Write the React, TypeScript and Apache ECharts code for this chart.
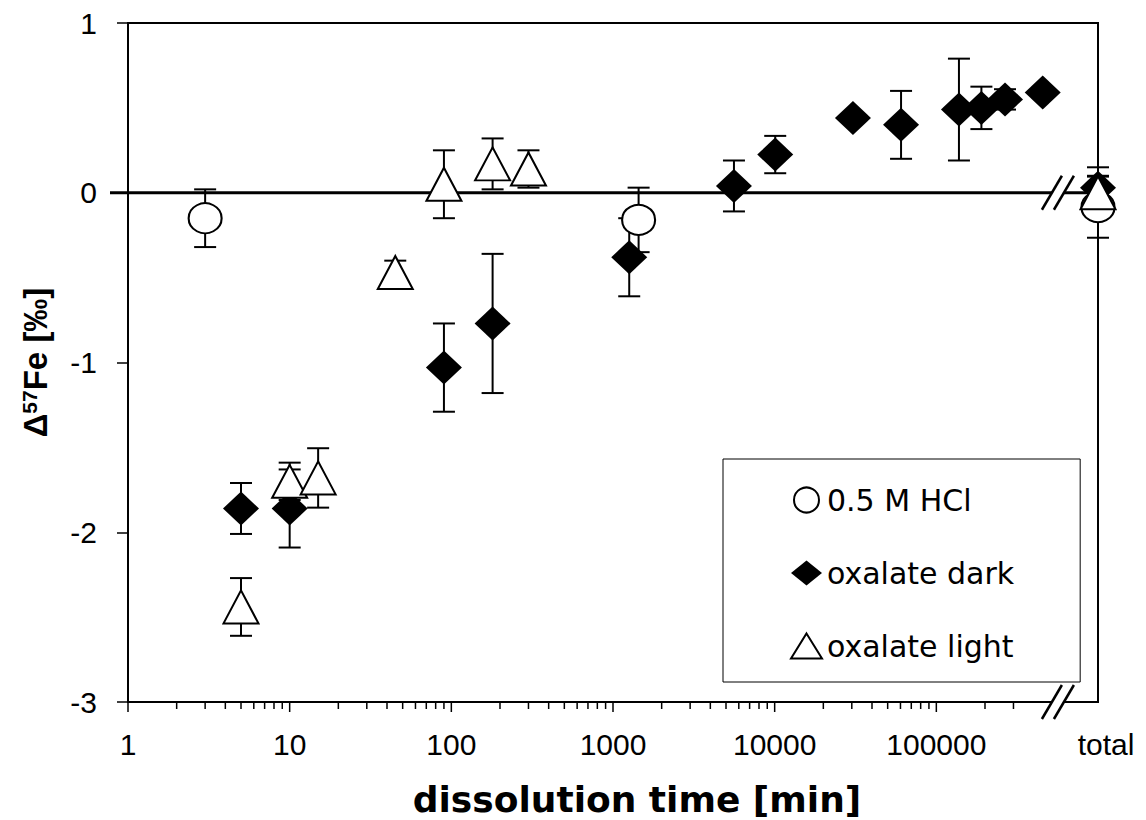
import React, { useEffect, useRef } from 'react';
import * as echarts from 'echarts';

// position of the "total" samples on the time axis, and of the axis break
const TOTAL = 1e6;
const BREAK_AT = 565000;

const hclTime = [3, 1440, TOTAL];
const hclValue = [-0.15, -0.16, -0.085];
const hclError = [0.17, 0.19, 0.18];

const darkTime = [5, 10, 90, 180, 1260, 5600, 10080, 30500, 60500, 138000, 190000, 266000, 455000, TOTAL];
const darkValue = [-1.86, -1.86, -1.03, -0.77, -0.38, 0.04, 0.225, 0.44, 0.4, 0.49, 0.5, 0.55, 0.59, 0.03];
const darkError = [0.15, 0.23, 0.26, 0.41, 0.23, 0.15, 0.11, 0, 0.2, 0.3, 0.125, 0.06, 0, 0.07];

const lightTime = [5, 10, 15, 45, 90, 180, 300, TOTAL];
const lightValue = [-2.44, -1.7, -1.68, -0.47, 0.05, 0.17, 0.14, 0.0];
const lightError = [0.17, 0.11, 0.175, 0.07, 0.2, 0.15, 0.11, 0.15];

const xTickLabels = ['1', '10', '100', '1000', '10000', '100000', 'total'];
const majorTicks = [1, 10, 100, 1000, 10000, 100000];
const minorTicks = [
  2, 3, 4, 5, 6, 7, 8, 9,
  20, 30, 40, 50, 60, 70, 80, 90,
  200, 300, 400, 500, 600, 700, 800, 900,
  2000, 3000, 4000, 5000, 6000, 7000, 8000, 9000,
  20000, 30000, 40000, 50000, 60000, 70000, 80000, 90000,
  200000, 300000,
];

const SANS = 'Liberation Sans';
const CAP = 11;

const errRender = (params: any, api: any) => {
  const t = api.value(0);
  const v = api.value(1);
  const e = api.value(2);
  if (!e) return { type: 'group', children: [] };
  const a = api.coord([t, v + e]);
  const b = api.coord([t, v - e]);
  const s = { stroke: '#000', lineWidth: 2 };
  return {
    type: 'group',
    children: [
      { type: 'line', shape: { x1: a[0], y1: a[1], x2: b[0], y2: b[1] }, style: s },
      { type: 'line', shape: { x1: a[0] - CAP, y1: a[1], x2: a[0] + CAP, y2: a[1] }, style: s },
      { type: 'line', shape: { x1: b[0] - CAP, y1: b[1], x2: b[0] + CAP, y2: b[1] }, style: s },
    ],
  };
};

const tickRender = (params: any, api: any) => {
  const p = api.coord([api.value(0), -3]);
  const len = api.value(2);
  return {
    type: 'line',
    shape: { x1: p[0], y1: p[1], x2: p[0], y2: p[1] + len },
    style: { stroke: '#000', lineWidth: 1.5 },
  };
};

const decorRender = (params: any, api: any) => {
  const left = api.coord([1, 0]);
  const right = api.coord([TOTAL, 0]);
  const br = api.coord([BREAK_AT, 0]);
  const brB = api.coord([BREAK_AT, -3]);
  const gap = 6;
  const children: any[] = [
    {
      type: 'line',
      shape: { x1: left[0] - 18, y1: left[1], x2: right[0], y2: right[1] },
      style: { stroke: '#000', lineWidth: 3 },
    },
  ];
  [br, brB].forEach((c) => {
    children.push({
      type: 'polygon',
      shape: {
        points: [
          [c[0] - gap - 10, c[1] + 17],
          [c[0] - gap + 10, c[1] - 17],
          [c[0] + gap + 10, c[1] - 17],
          [c[0] + gap - 10, c[1] + 17],
        ],
      },
      style: { fill: '#fff' },
    });
    [-gap, gap].forEach((s) => {
      children.push({
        type: 'line',
        shape: { x1: c[0] + s - 10, y1: c[1] + 17, x2: c[0] + s + 10, y2: c[1] - 17 },
        style: { stroke: '#000', lineWidth: 2.5 },
      });
    });
  });
  return { type: 'group', children };
};

const App: React.FC = () => {
  const ref = useRef<HTMLDivElement>(null);

  useEffect(() => {
    if (!ref.current) return;
    const chart = echarts.init(ref.current, null, { renderer: 'svg' });

    const errSeries = (time: number[], value: number[], err: number[]) => ({
      type: 'custom',
      silent: true,
      clip: false,
      renderItem: errRender,
      data: time.map((t, i) => [t, value[i], err[i]]),
      z: 3,
    });

    chart.setOption({
      animation: false,
      backgroundColor: '#fff',
      textStyle: { fontFamily: SANS, color: '#000' },
      grid: {
        left: 128,
        right: 48,
        top: 23,
        bottom: 118,
        outerBoundsMode: 'none',
        containLabel: false,
        show: true,
        borderColor: '#000',
        borderWidth: 2,
        backgroundColor: 'transparent',
      },
      legend: {
        data: ['0.5 M HCl', 'oxalate dark', 'oxalate light'],
        orient: 'vertical',
        left: 723,
        top: 459,
        padding: [26, 66, 21, 67],
        itemGap: 43,
        itemWidth: 31,
        itemHeight: 25,
        backgroundColor: '#fff',
        borderColor: '#000',
        borderWidth: 1,
        selectedMode: false,
        textStyle: { fontFamily: 'DejaVu Sans', fontSize: 30, color: '#000', lineHeight: 30 },
      },
      xAxis: {
        type: 'log',
        logBase: 10,
        min: 1,
        max: TOTAL,
        axisLine: { show: true, onZero: false, lineStyle: { color: '#000', width: 2 } },
        axisTick: { show: false },
        minorTick: { show: false },
        splitLine: { show: false },
        axisLabel: {
          fontSize: 30,
          color: '#000',
          fontFamily: SANS,
          margin: 27,
          formatter: (v: number) => {
            const i = Math.round(Math.log10(v));
            const s = xTickLabels[i] ?? '';
            return s === 'total' ? '{t|total}' : s;
          },
          rich: { t: { fontSize: 30, fontFamily: SANS, color: '#000', padding: [0, 0, 0, 16] } },
        },
        name: 'dissolution time [min]',
        nameLocation: 'middle',
        nameGap: 79,
        nameTextStyle: {
          fontFamily: 'DejaVu Sans',
          fontWeight: 'bold',
          fontSize: 36,
          lineHeight: 36,
          color: '#000',
          padding: [0, 0, 0, 48],
        },
      },
      yAxis: {
        type: 'value',
        min: -3,
        max: 1,
        interval: 1,
        axisLine: { show: true, onZero: false, lineStyle: { color: '#000', width: 2 } },
        axisTick: { show: true, length: 11, lineStyle: { color: '#000', width: 1.5 } },
        axisLabel: { fontSize: 30, color: '#000', fontFamily: SANS, margin: 31 },
        splitLine: { show: false },
        name: '{b|Δ}{s|57}{b|Fe [‰]}',
        nameLocation: 'middle',
        nameGap: 76,
        nameRotate: 90,
        nameTextStyle: {
          fontSize: 33,
          fontWeight: 'bold',
          color: '#000',
          rich: {
            b: { fontSize: 33, fontWeight: 'bold', fontFamily: SANS, color: '#000' },
            s: { fontSize: 21, fontWeight: 'bold', fontFamily: SANS, color: '#000', verticalAlign: 'top' },
          },
        },
      },
      series: [
        {
          type: 'custom',
          silent: true,
          clip: false,
          renderItem: decorRender,
          data: [[BREAK_AT, 0]],
          z: 2,
        },
        {
          type: 'custom',
          silent: true,
          clip: false,
          renderItem: tickRender,
          data: [
            ...majorTicks.map((v) => [v, -3, 10]),
            ...minorTicks.map((v) => [v, -3, 7]),
          ],
          z: 2,
        },
        errSeries(hclTime, hclValue, hclError),
        errSeries(darkTime, darkValue, darkError),
        errSeries(lightTime, lightValue, lightError),
        {
          type: 'scatter',
          name: '0.5 M HCl',
          symbol: 'circle',
          symbolSize: [33, 30],
          clip: false,
          z: 5,
          itemStyle: { color: '#fff', borderColor: '#000', borderWidth: 2, opacity: 1 },
          data: hclTime.map((t, i) => [t, hclValue[i]]),
        },
        {
          type: 'scatter',
          name: 'oxalate dark',
          symbol: 'diamond',
          symbolSize: [36, 34],
          clip: false,
          z: 6,
          itemStyle: { color: '#000', borderColor: '#000', borderWidth: 0, opacity: 1 },
          data: darkTime.map((t, i) => [t, darkValue[i]]),
        },
        {
          type: 'scatter',
          name: 'oxalate light',
          symbol: 'triangle',
          symbolSize: [35, 33],
          clip: false,
          z: 7,
          itemStyle: { color: '#fff', borderColor: '#000', borderWidth: 2, opacity: 1 },
          data: lightTime.map((t, i) => [t, lightValue[i]]),
        },
      ],
    });

    return () => {
      chart.dispose();
    };
  }, []);

  return (
    <div
      ref={ref}
      style={{ position: 'fixed', left: 0, top: 0, width: 1146, height: 820, background: '#fff' }}
    />
  );
};

export default App;
